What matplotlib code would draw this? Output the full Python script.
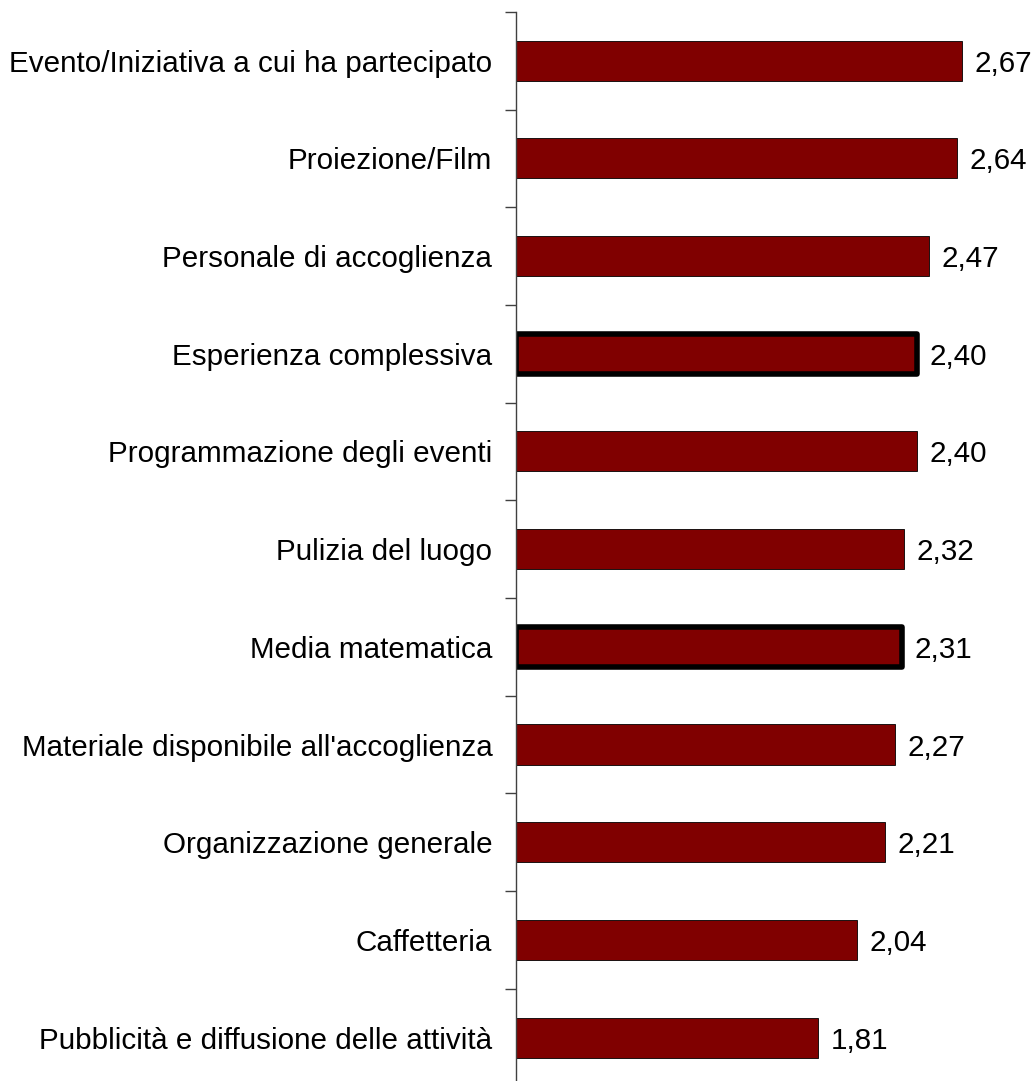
import matplotlib.pyplot as plt

plt.rcParams['font.family'] = ['Liberation Sans', 'DejaVu Sans']

# Punteggi medi di soddisfazione per voce
categorie = [
    "Evento/Iniziativa a cui ha partecipato",
    "Proiezione/Film",
    "Personale di accoglienza",
    "Esperienza complessiva",
    "Programmazione degli eventi",
    "Pulizia del luogo",
    "Media matematica",
    "Materiale disponibile all'accoglienza",
    "Organizzazione generale",
    "Caffetteria",
    "Pubblicità e diffusione delle attività",
]
valori = [2.67, 2.64, 2.47, 2.40, 2.40, 2.32, 2.31, 2.27, 2.21, 2.04, 1.81]
evidenziate = ["Esperienza complessiva", "Media matematica"]

fig = plt.figure(figsize=(10.36, 10.81), dpi=100)
ax = fig.add_axes([0.498, -0.005, 0.484, 0.994])

pos = list(range(len(categorie)))
bars = ax.barh(pos, valori, height=0.41, color='#800000',
               edgecolor='black', linewidth=0.6)

for b, cat, v in zip(bars, categorie, valori):
    if cat in evidenziate:
        b.set_linewidth(4)
        b.set_joinstyle('round')
    ax.text(v + 0.075, b.get_y() + b.get_height() / 2,
            f"{v:.2f}".replace('.', ','), va='center_baseline', ha='left',
            fontsize=21.3)

ax.set_xlim(0, 3)
ax.set_ylim(len(categorie) - 0.5, -0.5)

ax.set_yticks([p - 0.5 for p in pos] + [len(categorie) - 0.5])
ax.set_yticklabels([])
ax.set_yticks(pos, minor=True)
ax.set_yticklabels(categorie, minor=True, fontsize=21.3)
ax.tick_params(axis='y', which='major', length=8, width=1, color='#404040', direction='out')
ax.tick_params(axis='y', which='minor', length=0, pad=17)

ax.set_xticks([])
for s in ['top', 'right', 'bottom']:
    ax.spines[s].set_visible(False)
ax.spines['left'].set_color('#404040')
ax.spines['left'].set_linewidth(1)

fig.savefig('out.png', dpi=100)
